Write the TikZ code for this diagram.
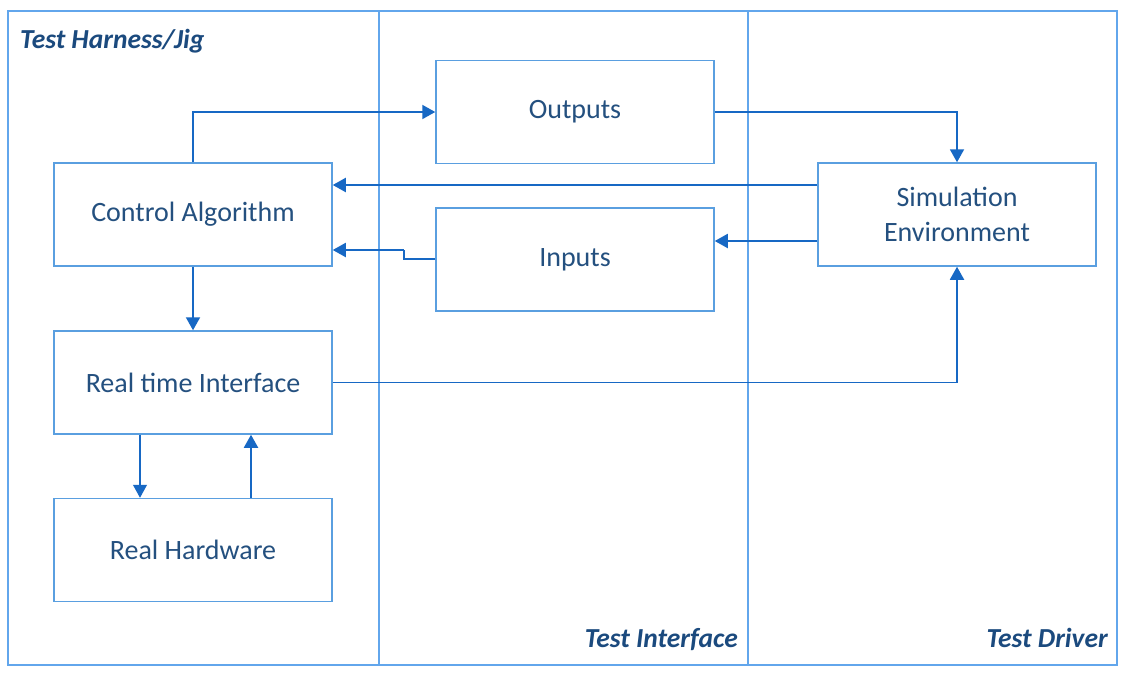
\documentclass[tikz,border=0pt]{standalone}
\usepackage{fontspec}
\setmainfont{Carlito}
\usetikzlibrary{arrows.meta,positioning}
\definecolor{frameblue}{HTML}{62A6EC}
\definecolor{boxblue}{HTML}{5A9FE0}
\definecolor{arrowblue}{HTML}{1768C4}
\definecolor{textblue}{HTML}{24507F}
\definecolor{labelblue}{HTML}{1B4A7E}
\tikzset{
  panel/.style={draw=frameblue,line width=2.6pt,minimum width=#1,minimum height=654pt,inner sep=0pt},
  box/.style={draw=boxblue,line width=1.5pt,fill=white,minimum width=278pt,minimum height=103pt,inner sep=0pt,
    text=textblue,font=\fontsize{28}{35}\selectfont,align=center},
  lbl/.style={text=labelblue,font=\fontsize{27.5}{30}\selectfont\bfseries\itshape,inner sep=0pt},
  conn/.style={draw=arrowblue,line width=1.9pt,-{Triangle[length=13pt,width=14pt]}},
  thinconn/.style={draw=arrowblue,line width=1.1pt,-{Triangle[length=13pt,width=14pt]}}
}
\begin{document}
\begin{tikzpicture}[x=1pt,y=-1pt]
\useasboundingbox (0,0) rectangle (1142,680);
\fill[white] (0,0) rectangle (1142,680);
% panels
\node[panel=371pt] (p1) at (193.5,338) {};
\node[panel=369pt] (p2) at (563.5,338) {};
\node[panel=369pt] (p3) at (932.5,338) {};
\node[lbl,anchor=base west] (l1) at (20,48) {Test Harness/Jig};
\node[lbl,anchor=base east] (l2) at (738,647) {Test Interface};
\node[lbl,anchor=base east] (l3) at (1108,647) {Test Driver};
% boxes
\node[box] (ca) at (193,214.5) {Control Algorithm};
\node[box] (out) at (575,112) {Outputs};
\node[box] (inp) at (575,259.5) {Inputs};
\node[box] (sim) at (957,214.5) {Simulation\\Environment};
\node[box] (rti) at (193,382.5) {Real time Interface};
\node[box] (rh) at (193,550) {Real Hardware};
% connectors
\coordinate (j1) at (404,259);
\coordinate (j2) at (404,250);
\draw[conn] (ca.north) |- (out.west);
\draw[conn] (out.east) -| (sim.north);
\draw[conn] (sim.west |- 0,185) -- (ca.east |- 0,185);
\draw[conn] (sim.west |- 0,241) -- (inp.east |- 0,241);
\draw[draw=arrowblue,line width=1.1pt] (inp.west |- j1) -- (j1) -- (j2);
\draw[conn] (j2) -- (ca.east |- j2);
\draw[conn] (ca.south) -- (rti.north);
\draw[conn] (rti.east) -| (sim.south);
\draw[thinconn] (rti.south -| 140,0) -- (rh.north -| 140,0);
\draw[conn] (rh.north -| 251,0) -- (rti.south -| 251,0);
\end{tikzpicture}
\end{document}
